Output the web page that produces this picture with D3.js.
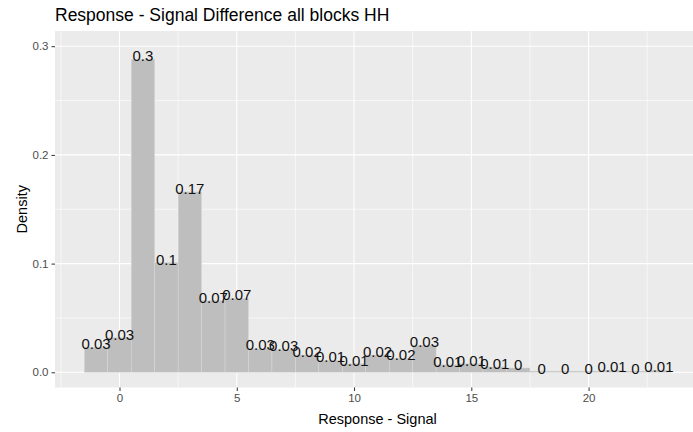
<!DOCTYPE html>
<html>
<head>
<meta charset="utf-8">
<script src="https://cdn.jsdelivr.net/npm/d3@7"></script>
<style>
  body { margin: 0; background: #fff; }
  svg { display: block; font-family: "Liberation Sans", Arial, sans-serif; }
</style>
</head>
<body>
<div id="chart"></div>
<script>
// histogram bins (centre of each bin, width 1)
const binCentres = [-1, 0, 1, 2, 3, 4, 5, 6, 7, 8, 9, 10, 11, 12, 13, 14, 15, 16, 17, 18, 19, 20, 21, 22, 23];
// density of each bin
const densities = [0.023, 0.032, 0.288, 0.101, 0.166, 0.066, 0.068, 0.022, 0.021, 0.016, 0.011, 0.008, 0.016,
    0.013, 0.025, 0.007, 0.008, 0.005, 0.004, 0, 0, 0, 0.002, 0, 0.002];
// text printed over each bar
const barLabels = ["0.03", "0.03", "0.3", "0.1", "0.17", "0.07", "0.07", "0.03", "0.03", "0.02", "0.01", "0.01", "0.02",
    "0.02", "0.03", "0.01", "0.01", "0.01", "0", "0", "0", "0", "0.01", "0", "0.01"];
const xTicks = [0, 5, 10, 15, 20];
const yTicks = [0, 0.1, 0.2, 0.3];

const width = 693, height = 432;
const panel = { left: 55, right: 700, top: 31, bottom: 387.5 };

const svg = d3.select("#chart").append("svg")
    .attr("width", width)
    .attr("height", height);

const x = d3.scaleLinear().domain([-2.75, 24.75]).range([panel.left, panel.right]);
const y = d3.scaleLinear().domain([-0.014, 0.314]).range([panel.bottom, panel.top]);

// panel background
svg.append("rect")
    .attr("x", panel.left).attr("y", panel.top)
    .attr("width", panel.right - panel.left)
    .attr("height", panel.bottom - panel.top)
    .attr("fill", "#EBEBEB");

// minor grid
const xMinor = xTicks.map(d => d - 2.5).concat([22.5]);
const yMinor = [0.05, 0.15, 0.25];
const grid = svg.append("g");
grid.selectAll(".xminor").data(xMinor).enter().append("line")
    .attr("x1", d => x(d)).attr("x2", d => x(d))
    .attr("y1", panel.top).attr("y2", panel.bottom)
    .attr("stroke", "#fff").attr("stroke-width", 0.6);
grid.selectAll(".yminor").data(yMinor).enter().append("line")
    .attr("y1", d => y(d)).attr("y2", d => y(d))
    .attr("x1", panel.left).attr("x2", panel.right)
    .attr("stroke", "#fff").attr("stroke-width", 0.6);
// major grid
grid.selectAll(".xmajor").data(xTicks).enter().append("line")
    .attr("x1", d => x(d)).attr("x2", d => x(d))
    .attr("y1", panel.top).attr("y2", panel.bottom)
    .attr("stroke", "#fff").attr("stroke-width", 1.1);
grid.selectAll(".ymajor").data(yTicks).enter().append("line")
    .attr("y1", d => y(d)).attr("y2", d => y(d))
    .attr("x1", panel.left).attr("x2", panel.right)
    .attr("stroke", "#fff").attr("stroke-width", 1.1);

// bars
const bins = binCentres.map((c, i) => ({ c: c, d: densities[i], label: barLabels[i] }));
svg.append("g").selectAll("rect")
    .data(bins)
    .enter()
    .append("rect")
    .attr("x", d => x(d.c - 0.5))
    .attr("width", d => x(d.c + 0.5) - x(d.c - 0.5))
    .attr("y", d => Math.min(y(d.d), y(0) - 1.2))
    .attr("height", d => Math.max(y(0) - y(d.d), 1.2))
    .attr("fill", "#BEBEBE")
    .attr("stroke", "#DDDDDD")
    .attr("stroke-width", 0.4);

// bar labels
svg.append("g").selectAll("text")
    .data(bins)
    .enter()
    .append("text")
    .attr("x", d => x(d.c))
    .attr("y", d => y(d.d) + 2)
    .attr("text-anchor", "middle")
    .attr("font-size", "15px")
    .attr("fill", "#111")
    .text(d => d.label);

// axes
const xAxis = svg.append("g")
    .attr("transform", `translate(0, ${panel.bottom})`)
    .call(d3.axisBottom(x).tickValues(xTicks).tickSize(3.5).tickPadding(3).tickFormat(d3.format("d")));
const yAxis = svg.append("g")
    .attr("transform", `translate(${panel.left}, 0)`)
    .call(d3.axisLeft(y).tickValues(yTicks).tickSize(3.5).tickPadding(3).tickFormat(d3.format(".1f")));
[xAxis, yAxis].forEach(g => {
    g.select(".domain").remove();
    g.selectAll(".tick line").attr("stroke", "#333").attr("stroke-width", 1);
    g.selectAll(".tick text")
        .attr("fill", "#4D4D4D")
        .attr("font-size", "11.5px")
        .attr("font-family", "Liberation Sans, Arial, sans-serif");
});

// titles
svg.append("text")
    .attr("x", panel.left)
    .attr("y", 21)
    .attr("font-size", "17.5px")
    .attr("fill", "#000")
    .text("Response - Signal Difference all blocks HH");

svg.append("text")
    .attr("x", (panel.left + panel.right) / 2)
    .attr("y", 424)
    .attr("text-anchor", "middle")
    .attr("font-size", "14.5px")
    .attr("fill", "#000")
    .text("Response - Signal");

svg.append("text")
    .attr("transform", `translate(27, ${(panel.top + panel.bottom) / 2}) rotate(-90)`)
    .attr("text-anchor", "middle")
    .attr("font-size", "14.5px")
    .attr("fill", "#000")
    .text("Density");
</script>
</body>
</html>
